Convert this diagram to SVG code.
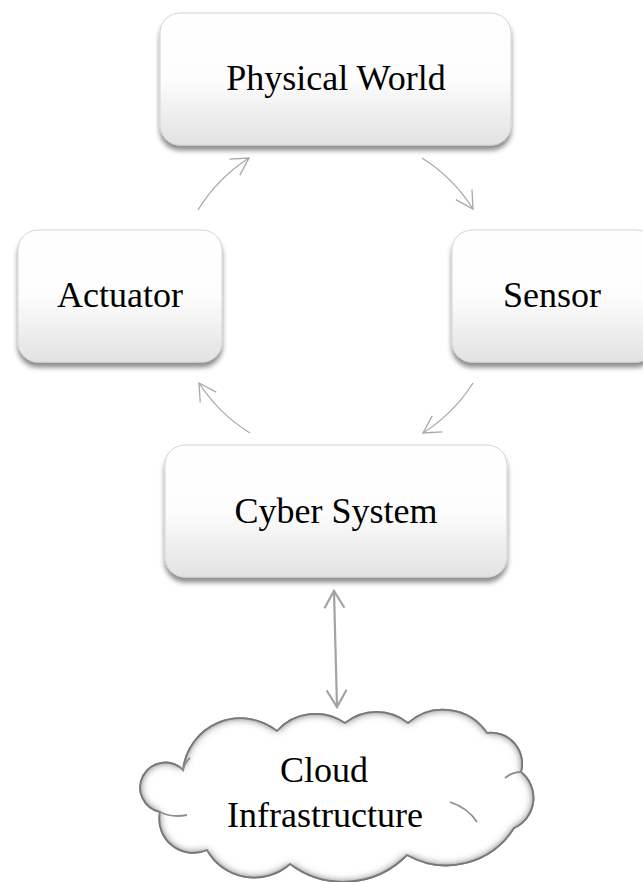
<svg xmlns="http://www.w3.org/2000/svg" width="643" height="882" viewBox="0 0 643 882">
  <defs>
    <style>
      .box { fill: url(#boxFill); stroke: #d4d4d4; stroke-width: 1; filter: url(#boxShadow); }
      .label { font-family: "Liberation Serif", "Times New Roman", serif; font-size: 36px; fill: #000; text-anchor: middle; }
      .arc { fill: none; stroke: #a8a8a8; stroke-width: 1.3; marker-end: url(#head); }
      .link { fill: none; stroke: #a3a3a3; stroke-width: 2.2; marker-start: url(#headBold); marker-end: url(#headBold); }
      .cloud { fill: #ffffff; stroke: #8a8a8a; stroke-width: 1.8; filter: url(#bevel); }
      .crease { fill: none; stroke: #8f8f8f; stroke-width: 1.8; }
    </style>
    <linearGradient id="boxFill" x1="0" y1="0" x2="0" y2="1">
      <stop offset="0" stop-color="#ffffff"/>
      <stop offset="0.5" stop-color="#fdfdfd"/>
      <stop offset="1" stop-color="#e2e2e2"/>
    </linearGradient>
    <filter id="boxShadow" x="-10%" y="-10%" width="120%" height="130%">
      <feDropShadow dx="0" dy="5" stdDeviation="2.5" flood-color="#000" flood-opacity="0.45"/>
    </filter>
    <!-- grey rim fading inward from the outline of the cloud -->
    <filter id="bevel" x="-10%" y="-10%" width="120%" height="120%">
      <feFlood flood-color="#6e6e6e" result="f"/>
      <feComposite in="f" in2="SourceAlpha" operator="out" result="o"/>
      <feGaussianBlur in="o" stdDeviation="4" result="b"/>
      <feComposite in="b" in2="SourceAlpha" operator="in" result="inner"/>
      <feMerge>
        <feMergeNode in="SourceGraphic"/>
        <feMergeNode in="inner"/>
        <feMergeNode in="inner"/>
      </feMerge>
    </filter>
    <marker id="head" markerUnits="userSpaceOnUse" markerWidth="24" markerHeight="24" orient="auto" overflow="visible">
      <path d="M-17,-9.5 L0,0 L-17,9.5" fill="none" stroke="#a8a8a8" stroke-width="1.3"/>
    </marker>
    <marker id="headBold" markerUnits="userSpaceOnUse" markerWidth="24" markerHeight="24" orient="auto-start-reverse" overflow="visible">
      <path d="M-17,-10 L0,0 L-17,10" fill="none" stroke="#a3a3a3" stroke-width="2.2"/>
    </marker>
  </defs>

  <rect width="643" height="882" fill="#ffffff"/>

  <!-- feedback loop arcs on one circle (centre 336,296) and the cloud link -->
  <g id="connectors">
    <path class="arc" d="M198,210 A162.5,162.5 0 0 1 249,158"/>
    <path class="arc" d="M422,158 A162.5,162.5 0 0 1 473,209"/>
    <path class="arc" d="M473,383 A162.5,162.5 0 0 1 423,433"/>
    <path class="arc" d="M250,433 A162.5,162.5 0 0 1 199,383"/>
    <path class="link" d="M334,591 L337,707"/>
  </g>

  <g id="physical-world">
    <rect class="box" x="160" y="13" width="351" height="132" rx="20"/>
    <text class="label" x="336" y="90">Physical World</text>
  </g>

  <g id="actuator">
    <rect class="box" x="18" y="230" width="204" height="132" rx="20"/>
    <text class="label" x="120" y="307">Actuator</text>
  </g>

  <g id="sensor">
    <rect class="box" x="452" y="230" width="204" height="132" rx="20"/>
    <text class="label" x="552" y="307">Sensor</text>
  </g>

  <g id="cyber-system">
    <rect class="box" x="165" y="445" width="342" height="132" rx="20"/>
    <text class="label" x="336" y="523">Cyber System</text>
  </g>

  <g id="cloud-infrastructure">
    <path class="cloud" d="M160,812
      A25,25 0 1 1 183,770
      A58,58 0 0 1 277,731
      A52,52 0 0 1 345,723
      A50,50 0 0 1 408,723
      A53,53 0 0 1 487,733
      A31,31 0 0 1 521,772
      A33,33 0 0 1 514,828
      A80,80 0 0 1 407,855
      A89,89 0 0 1 290,864
      A54,54 0 0 1 207,850
      A34,34 0 0 1 160,812 Z"/>
    <path class="crease" d="M160,812 Q172,818 187,815"/>
    <path class="crease" d="M521,772 Q512,772 505,778"/>
    <path class="crease" d="M450,802 Q468,808 477,822"/>
    <path class="crease" d="M183,770 Q185,762 190,758"/>
    <text class="label" x="324" y="782">Cloud</text>
    <text class="label" x="325" y="827">Infrastructure</text>
  </g>
</svg>
